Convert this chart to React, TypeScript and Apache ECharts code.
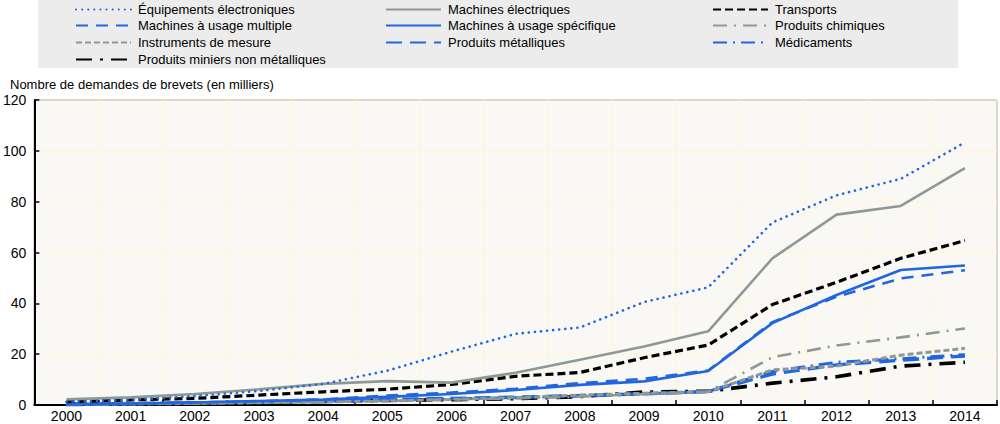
import React, { useEffect, useRef } from "react";
import * as echarts from "echarts";

const years = ["2000","2001","2002","2003","2004","2005","2006","2007","2008","2009","2010","2011","2012","2013","2014"];

const equipElec = [1.2, 2.0, 3.5, 5.5, 8.3, 13.5, 21, 28, 30.5, 40.5, 46.3, 71.8, 82.5, 89, 103.3];
const machElec = [2.2, 3.0, 4.3, 6.2, 8.3, 9.4, 8.8, 12.7, 17.8, 23, 29, 57.7, 74.9, 78.3, 93.2];
const transports = [1.3, 2.0, 2.6, 3.9, 5.2, 6.2, 8.1, 11.3, 12.8, 18.6, 23.6, 39.5, 48.3, 57.7, 64.7];
const machMulti = [0.3, 0.6, 1.0, 1.5, 2.2, 3.7, 4.9, 6.4, 8.6, 10.3, 13.6, 32.6, 42.6, 49.8, 53.0];
const machSpec = [0.2, 0.5, 1.0, 1.6, 2.1, 3.2, 4.3, 5.9, 7.9, 9.3, 13.4, 32.2, 43.3, 53.1, 54.9];
const chimiques = [0.2, 0.4, 0.6, 0.9, 1.2, 1.6, 2.1, 2.6, 3.3, 4.3, 5.2, 18.8, 23.4, 26.6, 30.1];
const instruments = [0.2, 0.4, 0.6, 0.9, 1.2, 1.6, 2.2, 2.9, 3.9, 4.6, 5.2, 13.8, 15.3, 19.6, 22.3];
const metalliques = [0.3, 0.6, 0.9, 1.2, 1.6, 2.2, 2.6, 3.1, 3.7, 4.4, 5.3, 12.2, 15.8, 17.6, 19.3];
const medicaments = [0.3, 0.5, 0.8, 1.1, 1.5, 1.9, 2.4, 2.9, 3.5, 4.4, 5.3, 13.2, 16.8, 18.2, 19.8];
const miniers = [0.2, 0.4, 0.7, 1.0, 1.4, 1.8, 2.1, 2.5, 3.3, 5.1, 5.4, 8.6, 11.1, 15.3, 16.8];

const yTicks = [0, 20, 40, 60, 80, 100, 120];
const yAxisTitle = "Nombre de demandes de brevets (en milliers)";

const BLUE = "#1f66e0";
const GRAY = "#8e9996";
const BLACK = "#000000";
const FONT = "'Liberation Sans Narrow', 'Arial Narrow', 'Liberation Sans', Arial, sans-serif";

const seriesDefs = [
  { name: "Équipements électroniques", data: equipElec, color: BLUE, width: 2.6, type: [0.1, 6], cap: "round" },
  { name: "Machines électriques", data: machElec, color: GRAY, width: 2.6, type: "solid", cap: "butt" },
  { name: "Transports", data: transports, color: BLACK, width: 3.2, type: [8, 4], cap: "butt" },
  { name: "Machines à usage multiple", data: machMulti, color: BLUE, width: 2.6, type: [12, 8], cap: "butt" },
  { name: "Machines à usage spécifique", data: machSpec, color: BLUE, width: 2.6, type: "solid", cap: "butt" },
  { name: "Produits chimiques", data: chimiques, color: GRAY, width: 2.6, type: [14, 7, 2, 7], cap: "butt" },
  { name: "Instruments de mesure", data: instruments, color: GRAY, width: 3, type: [6, 3], cap: "butt" },
  { name: "Produits métalliques", data: metalliques, color: BLUE, width: 3.4, type: [16, 8], cap: "butt" },
  { name: "Médicaments", data: medicaments, color: BLUE, width: 3, type: [14, 6, 2, 6], cap: "butt" },
  { name: "Produits miniers non métalliques", data: miniers, color: BLACK, width: 3.6, type: [16, 8, 3, 8], cap: "butt" },
];

const legendCols = [75, 385, 712];
const legendRows = [10, 26, 43, 60];

export default function App() {
  const ref = useRef<HTMLDivElement>(null);
  useEffect(() => {
    if (!ref.current) return;
    const chart = echarts.init(ref.current, null, { renderer: "svg" });
    const legends = seriesDefs.map((s, i) => ({
      data: [s.name],
      left: legendCols[i % 3],
      top: legendRows[Math.floor(i / 3)] - 7,
      orient: "horizontal",
      padding: 0,
      itemWidth: 55,
      itemHeight: 14,
      selectedMode: false,
      itemStyle: { opacity: 0 },
      textStyle: { fontFamily: FONT, fontSize: 13, color: "#000", padding: [0, 0, 0, 2] },
    }));
    chart.setOption({
      animation: false,
      textStyle: { fontFamily: FONT },
      graphic: [
        {
          type: "rect",
          z: -10,
          silent: true,
          shape: { x: 38, y: 0, width: 920, height: 68 },
          style: { fill: "#ececec" },
        },
        {
          type: "text",
          left: 10,
          top: 78,
          silent: true,
          style: { text: yAxisTitle, fontFamily: FONT, fontSize: 13, fill: "#000" },
        },
      ],
      legend: legends,
      grid: {
        left: 34,
        right: 3,
        top: 100,
        bottom: 19,
        show: true,
        backgroundColor: "#f9f8f5",
        borderColor: "#000",
        borderWidth: 1,
      },
      xAxis: {
        type: "category",
        data: years,
        boundaryGap: true,
        axisLine: { lineStyle: { color: "#000", width: 2 } },
        axisTick: { show: true, inside: true, length: 5, lineStyle: { color: "#000", width: 1.5 } },
        axisLabel: { fontFamily: FONT, fontSize: 14, color: "#000", margin: 4 },
        splitLine: { show: true, lineStyle: { color: "#fcf6dc", width: 1.5 } },
      },
      yAxis: {
        type: "value",
        min: yTicks[0],
        max: yTicks[yTicks.length - 1],
        interval: 20,
        axisLine: { show: true, lineStyle: { color: "#000", width: 2 } },
        axisTick: { show: true, inside: true, length: 5, lineStyle: { color: "#000", width: 1.5 } },
        axisLabel: { fontFamily: FONT, fontSize: 14, color: "#000", margin: 8 },
        splitLine: { show: true, lineStyle: { color: "#fcf6dc", width: 1.5 } },
      },
      series: seriesDefs.map((s, i) => ({
        name: s.name,
        type: "line",
        data: s.data,
        symbol: "none",
        z: 10 - i,
        color: s.color,
        lineStyle: { color: s.color, width: s.width, type: s.type, cap: s.cap },
      })),
    });
    return () => chart.dispose();
  }, []);
  return <div ref={ref} style={{ width: 1000, height: 424, position: "absolute", left: 0, top: 0 }} />;
}
